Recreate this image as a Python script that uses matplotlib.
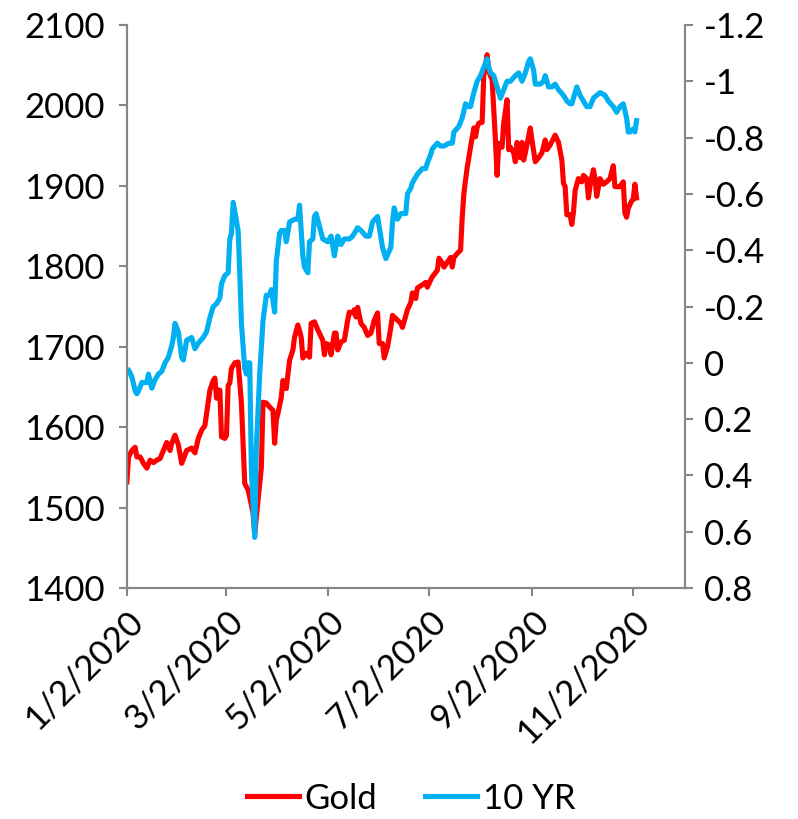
import pandas as pd
import numpy as np
import matplotlib
matplotlib.use('Agg')
from matplotlib import pyplot as plt
import matplotlib.dates as mdates
from matplotlib.ticker import FuncFormatter

gold_dates = [
    "2020-01-02", "2020-01-03", "2020-01-05", "2020-01-07", "2020-01-08", "2020-01-10", "2020-01-12",
    "2020-01-14", "2020-01-16", "2020-01-18", "2020-01-20", "2020-01-22", "2020-01-24", "2020-01-26",
    "2020-01-28", "2020-01-29", "2020-01-31", "2020-02-02", "2020-02-04", "2020-02-07", "2020-02-10",
    "2020-02-12", "2020-02-14", "2020-02-16", "2020-02-18", "2020-02-19", "2020-02-21", "2020-02-23",
    "2020-02-24", "2020-02-25", "2020-02-26", "2020-02-27", "2020-02-28", "2020-03-01", "2020-03-02",
    "2020-03-03", "2020-03-04", "2020-03-05", "2020-03-07", "2020-03-09", "2020-03-10", "2020-03-11",
    "2020-03-13", "2020-03-15", "2020-03-16", "2020-03-18", "2020-03-19", "2020-03-21", "2020-03-23",
    "2020-03-24", "2020-03-26", "2020-03-28", "2020-03-30", "2020-03-31", "2020-04-01", "2020-04-02",
    "2020-04-04", "2020-04-05", "2020-04-07", "2020-04-09", "2020-04-11", "2020-04-12", "2020-04-14",
    "2020-04-16", "2020-04-17", "2020-04-19", "2020-04-21", "2020-04-22", "2020-04-24", "2020-04-26",
    "2020-04-29", "2020-04-30", "2020-05-01", "2020-05-03", "2020-05-04", "2020-05-06", "2020-05-07",
    "2020-05-08", "2020-05-10", "2020-05-12", "2020-05-14", "2020-05-15", "2020-05-17", "2020-05-18",
    "2020-05-19", "2020-05-20", "2020-05-22", "2020-05-24", "2020-05-26", "2020-05-28", "2020-05-30",
    "2020-06-01", "2020-06-02", "2020-06-04", "2020-06-05", "2020-06-07", "2020-06-09", "2020-06-10",
    "2020-06-13", "2020-06-15", "2020-06-16", "2020-06-19", "2020-06-21", "2020-06-22", "2020-06-24",
    "2020-06-25", "2020-06-28", "2020-06-30", "2020-07-01", "2020-07-03", "2020-07-04", "2020-07-07",
    "2020-07-08", "2020-07-10", "2020-07-11", "2020-07-13", "2020-07-15", "2020-07-16", "2020-07-17",
    "2020-07-19", "2020-07-21", "2020-07-22", "2020-07-23", "2020-07-25", "2020-07-27", "2020-07-29",
    "2020-07-30", "2020-07-31", "2020-08-01", "2020-08-03", "2020-08-04", "2020-08-06", "2020-08-07",
    "2020-08-09", "2020-08-11", "2020-08-12", "2020-08-13", "2020-08-15", "2020-08-16", "2020-08-18",
    "2020-08-19", "2020-08-20", "2020-08-22", "2020-08-23", "2020-08-24", "2020-08-26", "2020-08-27",
    "2020-08-28", "2020-08-29", "2020-09-01", "2020-09-02", "2020-09-04", "2020-09-06", "2020-09-08",
    "2020-09-10", "2020-09-11", "2020-09-13", "2020-09-16", "2020-09-18", "2020-09-20", "2020-09-21",
    "2020-09-22", "2020-09-23", "2020-09-25", "2020-09-26", "2020-09-27", "2020-09-28", "2020-09-30",
    "2020-10-02", "2020-10-03", "2020-10-05", "2020-10-06", "2020-10-07", "2020-10-09", "2020-10-10",
    "2020-10-11", "2020-10-13", "2020-10-15", "2020-10-17", "2020-10-19", "2020-10-21", "2020-10-22",
    "2020-10-25", "2020-10-27", "2020-10-28", "2020-10-29", "2020-10-30", "2020-11-01", "2020-11-02",
    "2020-11-03", "2020-11-04"]
gold = [
    1532, 1563, 1571, 1575, 1563, 1563, 1555,
    1549, 1559, 1556, 1559, 1561, 1571, 1581,
    1571, 1580, 1590, 1578, 1555, 1571, 1574,
    1568, 1586, 1596, 1602, 1617, 1646, 1658,
    1661, 1636, 1646, 1646, 1588, 1586, 1590,
    1652, 1655, 1673, 1680, 1681, 1655, 1630,
    1530, 1522, 1513, 1493, 1468, 1509, 1550,
    1631, 1630, 1625, 1621, 1580, 1609, 1617,
    1637, 1658, 1648, 1683, 1696, 1712, 1727,
    1712, 1686, 1692, 1687, 1729, 1731, 1721,
    1708, 1690, 1704, 1702, 1690, 1717, 1717,
    1696, 1706, 1708, 1733, 1743, 1742, 1746,
    1737, 1749, 1729, 1724, 1714, 1717, 1733,
    1742, 1704, 1704, 1686, 1700, 1724, 1739,
    1733, 1729, 1724, 1746, 1755, 1767, 1760,
    1773, 1777, 1780, 1774, 1783, 1787, 1795,
    1810, 1804, 1799, 1805, 1811, 1799, 1811,
    1816, 1820, 1861, 1891, 1923, 1948, 1972,
    1961, 1973, 1978, 1979, 2038, 2063, 2042,
    2032, 1957, 1913, 1953, 1948, 1978, 2007,
    1945, 1948, 1941, 1930, 1954, 1935, 1954,
    1932, 1941, 1972, 1957, 1930, 1935, 1941,
    1957, 1945, 1951, 1963, 1954, 1932, 1903,
    1899, 1864, 1864, 1852, 1867, 1894, 1909,
    1905, 1913, 1909, 1885, 1900, 1920, 1909,
    1887, 1909, 1902, 1905, 1909, 1925, 1899,
    1899, 1905, 1866, 1861, 1872, 1881, 1883,
    1902, 1885]

yr10_dates = [
    "2020-01-02", "2020-01-03", "2020-01-05", "2020-01-07", "2020-01-08", "2020-01-09", "2020-01-11",
    "2020-01-12", "2020-01-14", "2020-01-15", "2020-01-17", "2020-01-19", "2020-01-21", "2020-01-23",
    "2020-01-25", "2020-01-27", "2020-01-29", "2020-01-30", "2020-01-31", "2020-02-02", "2020-02-04",
    "2020-02-05", "2020-02-07", "2020-02-10", "2020-02-12", "2020-02-14", "2020-02-17", "2020-02-19",
    "2020-02-21", "2020-02-23", "2020-02-25", "2020-02-27", "2020-02-28", "2020-03-01", "2020-03-03",
    "2020-03-04", "2020-03-05", "2020-03-06", "2020-03-09", "2020-03-10", "2020-03-11", "2020-03-13",
    "2020-03-14", "2020-03-15", "2020-03-16", "2020-03-17", "2020-03-19", "2020-03-20", "2020-03-22",
    "2020-03-24", "2020-03-26", "2020-03-28", "2020-03-29", "2020-03-31", "2020-04-01", "2020-04-03",
    "2020-04-04", "2020-04-06", "2020-04-07", "2020-04-09", "2020-04-12", "2020-04-14", "2020-04-15",
    "2020-04-17", "2020-04-18", "2020-04-20", "2020-04-21", "2020-04-23", "2020-04-24", "2020-04-25",
    "2020-04-29", "2020-05-02", "2020-05-04", "2020-05-06", "2020-05-08", "2020-05-10", "2020-05-12",
    "2020-05-15", "2020-05-17", "2020-05-20", "2020-05-22", "2020-05-25", "2020-05-27", "2020-05-29",
    "2020-06-01", "2020-06-04", "2020-06-06", "2020-06-09", "2020-06-10", "2020-06-11", "2020-06-13",
    "2020-06-15", "2020-06-18", "2020-06-19", "2020-06-21", "2020-06-22", "2020-06-24", "2020-06-25",
    "2020-06-28", "2020-06-30", "2020-07-01", "2020-07-03", "2020-07-04", "2020-07-07", "2020-07-09",
    "2020-07-11", "2020-07-14", "2020-07-16", "2020-07-17", "2020-07-20", "2020-07-22", "2020-07-24",
    "2020-07-26", "2020-07-27", "2020-07-29", "2020-07-31", "2020-08-02", "2020-08-04", "2020-08-06",
    "2020-08-07", "2020-08-08", "2020-08-10", "2020-08-12", "2020-08-14", "2020-08-16", "2020-08-18",
    "2020-08-20", "2020-08-23", "2020-08-25", "2020-08-27", "2020-08-29", "2020-08-31", "2020-09-01",
    "2020-09-03", "2020-09-04", "2020-09-07", "2020-09-09", "2020-09-10", "2020-09-12", "2020-09-14",
    "2020-09-16", "2020-09-18", "2020-09-21", "2020-09-23", "2020-09-25", "2020-09-26", "2020-09-29",
    "2020-10-01", "2020-10-03", "2020-10-05", "2020-10-07", "2020-10-09", "2020-10-13", "2020-10-16",
    "2020-10-18", "2020-10-21", "2020-10-23", "2020-10-25", "2020-10-27", "2020-10-29", "2020-10-30",
    "2020-10-31", "2020-11-02", "2020-11-03", "2020-11-04"]
yr10 = [
    0.03, 0.025, 0.05, 0.10, 0.11, 0.10, 0.07,
    0.07, 0.07, 0.04, 0.09, 0.06, 0.04, 0.03,
    0.0, -0.02, -0.06, -0.09, -0.14, -0.11, -0.02,
    -0.01, -0.08, -0.09, -0.05, -0.07, -0.09, -0.11,
    -0.16, -0.20, -0.21, -0.23, -0.28, -0.31, -0.32,
    -0.44, -0.46, -0.57, -0.47, -0.32, -0.14, 0.02,
    0.04, 0.0, 0.0, 0.38, 0.62, 0.30, 0.04,
    -0.15, -0.24, -0.24, -0.26, -0.18, -0.36, -0.46,
    -0.47, -0.47, -0.43, -0.50, -0.51, -0.51, -0.56,
    -0.38, -0.34, -0.32, -0.43, -0.44, -0.52, -0.53,
    -0.44, -0.43, -0.45, -0.38, -0.45, -0.42, -0.44,
    -0.44, -0.45, -0.48, -0.47, -0.45, -0.45, -0.50,
    -0.52, -0.41, -0.37, -0.41, -0.50, -0.55, -0.51,
    -0.53, -0.53, -0.60, -0.62, -0.64, -0.66, -0.67,
    -0.69, -0.69, -0.71, -0.74, -0.76, -0.78, -0.77,
    -0.77, -0.78, -0.78, -0.82, -0.84, -0.87, -0.92,
    -0.91, -0.91, -0.96, -1.00, -1.02, -1.05, -1.08,
    -1.05, -1.03, -1.02, -0.98, -0.94, -0.97, -1.00,
    -1.00, -1.02, -1.03, -1.00, -1.03, -1.07, -1.08,
    -1.04, -0.99, -0.99, -1.00, -1.02, -0.98, -0.98,
    -0.99, -0.97, -0.95, -0.93, -0.92, -0.92, -0.98,
    -0.95, -0.93, -0.91, -0.91, -0.94, -0.96, -0.95,
    -0.93, -0.91, -0.89, -0.91, -0.92, -0.87, -0.82,
    -0.82, -0.83, -0.82, -0.86]

tick_dates = ["2020-01-02", "2020-03-02", "2020-05-02", "2020-07-02", "2020-09-02", "2020-11-02"]


def yield_label(v, pos):
    v = round(v, 1) + 0.0
    return '%g' % v


def date_label(v, pos):
    d = mdates.num2date(v)
    return '{}/{}/{}'.format(d.month, d.day, d.year)


if __name__ == '__main__':
    plt.rcParams['font.family'] = ['Lato', 'DejaVu Sans']
    axis_grey = '#868686'

    fig = plt.figure(figsize=(7.98, 8.19), dpi=100)
    ax = fig.add_axes([0.159, 0.282, 0.699, 0.6875])
    ax2 = ax.twinx()

    l1, = ax.plot(pd.to_datetime(gold_dates), gold, color='#FF0000', lw=3.7,
                  solid_joinstyle='round', label='Gold')
    l2, = ax2.plot(pd.to_datetime(yr10_dates), yr10, color='#00B0F0', lw=3.7,
                   solid_joinstyle='round', label='10 YR')

    ax.set_xlim(pd.Timestamp('2020-01-02'), pd.Timestamp('2020-12-03'))
    ax.set_ylim(1400, 2100)
    ax.set_yticks(np.arange(1400, 2101, 100))
    ax2.set_ylim(0.8, -1.2)
    ax2.set_yticks(np.arange(-1.2, 0.81, 0.2))
    ax2.yaxis.set_major_formatter(FuncFormatter(yield_label))

    ax.set_xticks(pd.to_datetime(tick_dates))
    ax.xaxis.set_major_formatter(FuncFormatter(date_label))

    for a in (ax, ax2):
        a.spines['top'].set_visible(False)
        for s in ('left', 'right', 'bottom'):
            a.spines[s].set_color(axis_grey)
            a.spines[s].set_linewidth(1.5)
        a.tick_params(colors=axis_grey, labelcolor='black', labelsize=25,
                      length=6, width=1.5, direction='out')
    ax.tick_params(axis='y', pad=10)
    ax2.tick_params(axis='y', pad=8)
    ax.tick_params(axis='x', pad=6)
    for lab in ax.get_xticklabels():
        lab.set_rotation(45)
        lab.set_ha('right')
        lab.set_rotation_mode('anchor')

    fig.legend(handles=[l1, l2], loc='center', bbox_to_anchor=(0.515, 0.025), ncol=2,
               frameon=False, fontsize=25, handlelength=1.5, columnspacing=1.4,
               handletextpad=0.15)

    fig.savefig('out.png', dpi=100)
